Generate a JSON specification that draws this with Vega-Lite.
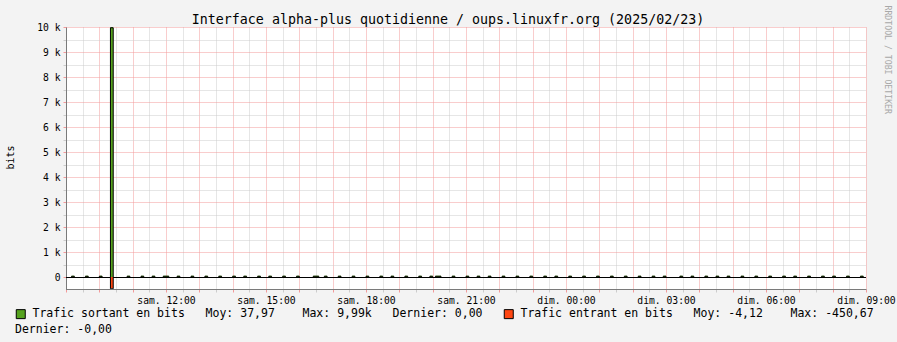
{
  "$schema": "https://vega.github.io/schema/vega-lite/v6.json",
  "width": 800,
  "height": 262,
  "autosize": {"type": "none"},
  "padding": {"left": 66, "top": 27, "right": 31, "bottom": 53},
  "background": "#f3f3f3",
  "title": {
    "text": "Interface alpha-plus quotidienne / oups.linuxfr.org (2025/02/23)",
    "font": "DejaVu Sans Mono",
    "fontSize": 13.3,
    "fontWeight": "normal",
    "color": "#000000",
    "anchor": "middle",
    "frame": "group",
    "dx": -18,
    "offset": -21
  },
  "config": {
    "view": {"stroke": null, "fill": "#ffffff"},
    "font": "DejaVu Sans Mono"
  },
  "datasets": {
    "traffic": [
      {"t": "2025-02-22T09:00:00Z", "s": "in", "v": 0},
      {"t": "2025-02-22T10:20:00Z", "s": "in", "v": -450.67},
      {"t": "2025-02-22T10:25:00Z", "s": "in", "v": 0},
      {"t": "2025-02-23T09:00:00Z", "s": "in", "v": 0},
      {"t": "2025-02-22T09:00:00Z", "s": "out", "v": 0},
      {"t": "2025-02-22T09:10:00Z", "s": "out", "v": 50},
      {"t": "2025-02-22T09:15:00Z", "s": "out", "v": 0},
      {"t": "2025-02-22T09:35:00Z", "s": "out", "v": 50},
      {"t": "2025-02-22T09:40:00Z", "s": "out", "v": 0},
      {"t": "2025-02-22T10:00:00Z", "s": "out", "v": 50},
      {"t": "2025-02-22T10:05:00Z", "s": "out", "v": 0},
      {"t": "2025-02-22T10:20:00Z", "s": "out", "v": 9990},
      {"t": "2025-02-22T10:25:00Z", "s": "out", "v": 0},
      {"t": "2025-02-22T10:50:00Z", "s": "out", "v": 50},
      {"t": "2025-02-22T10:55:00Z", "s": "out", "v": 0},
      {"t": "2025-02-22T11:15:00Z", "s": "out", "v": 50},
      {"t": "2025-02-22T11:20:00Z", "s": "out", "v": 0},
      {"t": "2025-02-22T11:35:00Z", "s": "out", "v": 50},
      {"t": "2025-02-22T11:40:00Z", "s": "out", "v": 0},
      {"t": "2025-02-22T11:55:00Z", "s": "out", "v": 50},
      {"t": "2025-02-22T12:05:00Z", "s": "out", "v": 0},
      {"t": "2025-02-22T12:20:00Z", "s": "out", "v": 50},
      {"t": "2025-02-22T12:25:00Z", "s": "out", "v": 0},
      {"t": "2025-02-22T12:45:00Z", "s": "out", "v": 50},
      {"t": "2025-02-22T12:50:00Z", "s": "out", "v": 0},
      {"t": "2025-02-22T13:10:00Z", "s": "out", "v": 50},
      {"t": "2025-02-22T13:15:00Z", "s": "out", "v": 0},
      {"t": "2025-02-22T13:35:00Z", "s": "out", "v": 50},
      {"t": "2025-02-22T13:40:00Z", "s": "out", "v": 0},
      {"t": "2025-02-22T14:00:00Z", "s": "out", "v": 50},
      {"t": "2025-02-22T14:05:00Z", "s": "out", "v": 0},
      {"t": "2025-02-22T14:20:00Z", "s": "out", "v": 50},
      {"t": "2025-02-22T14:25:00Z", "s": "out", "v": 0},
      {"t": "2025-02-22T14:45:00Z", "s": "out", "v": 50},
      {"t": "2025-02-22T14:50:00Z", "s": "out", "v": 0},
      {"t": "2025-02-22T15:05:00Z", "s": "out", "v": 50},
      {"t": "2025-02-22T15:10:00Z", "s": "out", "v": 0},
      {"t": "2025-02-22T15:30:00Z", "s": "out", "v": 50},
      {"t": "2025-02-22T15:35:00Z", "s": "out", "v": 0},
      {"t": "2025-02-22T15:55:00Z", "s": "out", "v": 50},
      {"t": "2025-02-22T16:00:00Z", "s": "out", "v": 0},
      {"t": "2025-02-22T16:25:00Z", "s": "out", "v": 50},
      {"t": "2025-02-22T16:35:00Z", "s": "out", "v": 0},
      {"t": "2025-02-22T16:45:00Z", "s": "out", "v": 50},
      {"t": "2025-02-22T16:50:00Z", "s": "out", "v": 0},
      {"t": "2025-02-22T17:10:00Z", "s": "out", "v": 50},
      {"t": "2025-02-22T17:15:00Z", "s": "out", "v": 0},
      {"t": "2025-02-22T17:35:00Z", "s": "out", "v": 50},
      {"t": "2025-02-22T17:40:00Z", "s": "out", "v": 0},
      {"t": "2025-02-22T18:00:00Z", "s": "out", "v": 50},
      {"t": "2025-02-22T18:05:00Z", "s": "out", "v": 0},
      {"t": "2025-02-22T18:25:00Z", "s": "out", "v": 50},
      {"t": "2025-02-22T18:30:00Z", "s": "out", "v": 0},
      {"t": "2025-02-22T18:45:00Z", "s": "out", "v": 50},
      {"t": "2025-02-22T18:50:00Z", "s": "out", "v": 0},
      {"t": "2025-02-22T19:10:00Z", "s": "out", "v": 50},
      {"t": "2025-02-22T19:15:00Z", "s": "out", "v": 0},
      {"t": "2025-02-22T19:35:00Z", "s": "out", "v": 50},
      {"t": "2025-02-22T19:40:00Z", "s": "out", "v": 0},
      {"t": "2025-02-22T19:55:00Z", "s": "out", "v": 50},
      {"t": "2025-02-22T20:00:00Z", "s": "out", "v": 0},
      {"t": "2025-02-22T20:05:00Z", "s": "out", "v": 50},
      {"t": "2025-02-22T20:15:00Z", "s": "out", "v": 0},
      {"t": "2025-02-22T20:35:00Z", "s": "out", "v": 50},
      {"t": "2025-02-22T20:40:00Z", "s": "out", "v": 0},
      {"t": "2025-02-22T21:00:00Z", "s": "out", "v": 50},
      {"t": "2025-02-22T21:05:00Z", "s": "out", "v": 0},
      {"t": "2025-02-22T21:20:00Z", "s": "out", "v": 50},
      {"t": "2025-02-22T21:25:00Z", "s": "out", "v": 0},
      {"t": "2025-02-22T21:40:00Z", "s": "out", "v": 50},
      {"t": "2025-02-22T21:45:00Z", "s": "out", "v": 0},
      {"t": "2025-02-22T22:05:00Z", "s": "out", "v": 50},
      {"t": "2025-02-22T22:10:00Z", "s": "out", "v": 0},
      {"t": "2025-02-22T22:30:00Z", "s": "out", "v": 50},
      {"t": "2025-02-22T22:35:00Z", "s": "out", "v": 0},
      {"t": "2025-02-22T22:55:00Z", "s": "out", "v": 50},
      {"t": "2025-02-22T23:00:00Z", "s": "out", "v": 0},
      {"t": "2025-02-22T23:20:00Z", "s": "out", "v": 50},
      {"t": "2025-02-22T23:25:00Z", "s": "out", "v": 0},
      {"t": "2025-02-22T23:40:00Z", "s": "out", "v": 50},
      {"t": "2025-02-22T23:45:00Z", "s": "out", "v": 0},
      {"t": "2025-02-23T00:05:00Z", "s": "out", "v": 50},
      {"t": "2025-02-23T00:10:00Z", "s": "out", "v": 0},
      {"t": "2025-02-23T00:30:00Z", "s": "out", "v": 50},
      {"t": "2025-02-23T00:35:00Z", "s": "out", "v": 0},
      {"t": "2025-02-23T00:55:00Z", "s": "out", "v": 50},
      {"t": "2025-02-23T01:00:00Z", "s": "out", "v": 0},
      {"t": "2025-02-23T01:20:00Z", "s": "out", "v": 50},
      {"t": "2025-02-23T01:25:00Z", "s": "out", "v": 0},
      {"t": "2025-02-23T01:45:00Z", "s": "out", "v": 50},
      {"t": "2025-02-23T01:50:00Z", "s": "out", "v": 0},
      {"t": "2025-02-23T02:10:00Z", "s": "out", "v": 50},
      {"t": "2025-02-23T02:15:00Z", "s": "out", "v": 0},
      {"t": "2025-02-23T02:35:00Z", "s": "out", "v": 50},
      {"t": "2025-02-23T02:40:00Z", "s": "out", "v": 0},
      {"t": "2025-02-23T02:55:00Z", "s": "out", "v": 50},
      {"t": "2025-02-23T03:00:00Z", "s": "out", "v": 0},
      {"t": "2025-02-23T03:25:00Z", "s": "out", "v": 50},
      {"t": "2025-02-23T03:30:00Z", "s": "out", "v": 0},
      {"t": "2025-02-23T03:45:00Z", "s": "out", "v": 50},
      {"t": "2025-02-23T03:50:00Z", "s": "out", "v": 0},
      {"t": "2025-02-23T04:10:00Z", "s": "out", "v": 50},
      {"t": "2025-02-23T04:15:00Z", "s": "out", "v": 0},
      {"t": "2025-02-23T04:30:00Z", "s": "out", "v": 50},
      {"t": "2025-02-23T04:35:00Z", "s": "out", "v": 0},
      {"t": "2025-02-23T04:50:00Z", "s": "out", "v": 50},
      {"t": "2025-02-23T04:55:00Z", "s": "out", "v": 0},
      {"t": "2025-02-23T05:15:00Z", "s": "out", "v": 50},
      {"t": "2025-02-23T05:20:00Z", "s": "out", "v": 0},
      {"t": "2025-02-23T05:40:00Z", "s": "out", "v": 50},
      {"t": "2025-02-23T05:45:00Z", "s": "out", "v": 0},
      {"t": "2025-02-23T06:05:00Z", "s": "out", "v": 50},
      {"t": "2025-02-23T06:10:00Z", "s": "out", "v": 0},
      {"t": "2025-02-23T06:30:00Z", "s": "out", "v": 50},
      {"t": "2025-02-23T06:35:00Z", "s": "out", "v": 0},
      {"t": "2025-02-23T06:50:00Z", "s": "out", "v": 50},
      {"t": "2025-02-23T06:55:00Z", "s": "out", "v": 0},
      {"t": "2025-02-23T07:15:00Z", "s": "out", "v": 50},
      {"t": "2025-02-23T07:20:00Z", "s": "out", "v": 0},
      {"t": "2025-02-23T07:40:00Z", "s": "out", "v": 50},
      {"t": "2025-02-23T07:45:00Z", "s": "out", "v": 0},
      {"t": "2025-02-23T08:00:00Z", "s": "out", "v": 50},
      {"t": "2025-02-23T08:05:00Z", "s": "out", "v": 0},
      {"t": "2025-02-23T08:25:00Z", "s": "out", "v": 50},
      {"t": "2025-02-23T08:30:00Z", "s": "out", "v": 0},
      {"t": "2025-02-23T08:50:00Z", "s": "out", "v": 50},
      {"t": "2025-02-23T08:55:00Z", "s": "out", "v": 0},
      {"t": "2025-02-23T09:00:00Z", "s": "out", "v": 0}
    ]
  },
  "resolve": {"scale": {"y": "independent"}},
  "layer": [
    {
      "encoding": {
        "x": {
          "field": "t",
          "type": "temporal",
          "scale": {
            "type": "utc",
            "domain": [
              {"year": 2025, "month": 2, "date": 22, "hours": 9, "utc": true},
              {"year": 2025, "month": 2, "date": 23, "hours": 9, "utc": true}
            ]
          },
          "axis": {
            "title": null,
            "values": [1740214800000, 1740216600000, 1740218400000, 1740220200000, 1740222000000, 1740223800000, 1740225600000, 1740227400000, 1740229200000, 1740231000000, 1740232800000, 1740234600000, 1740236400000, 1740238200000, 1740240000000, 1740241800000, 1740243600000, 1740245400000, 1740247200000, 1740249000000, 1740250800000, 1740252600000, 1740254400000, 1740256200000, 1740258000000, 1740259800000, 1740261600000, 1740263400000, 1740265200000, 1740267000000, 1740268800000, 1740270600000, 1740272400000, 1740274200000, 1740276000000, 1740277800000, 1740279600000, 1740281400000, 1740283200000, 1740285000000, 1740286800000, 1740288600000, 1740290400000, 1740292200000, 1740294000000, 1740295800000, 1740297600000, 1740299400000, 1740301200000],
            "labelExpr": "utcminutes(datum.value) === 0 && utchours(datum.value) % 3 === 0 && !(utcday(datum.value) === 6 && utchours(datum.value) === 9) ? (utcday(datum.value) === 6 ? 'sam. ' : 'dim. ') + utcFormat(datum.value, '%H:%M') : ''",
            "labelOverlap": false,
            "labelFlush": false,
            "labelBound": false,
            "labelFont": "DejaVu Sans Mono",
            "labelFontSize": 9.7,
            "labelColor": "#000000",
            "labelPadding": 3,
            "tickSize": 3,
            "tickColor": {"condition": {"test": "utcminutes(datum.value) === 0", "value": "#f29a9a"}, "value": "#cccccc"},
            "grid": true,
            "gridColor": {"condition": {"test": "utcminutes(datum.value) === 0", "value": "#f29a9a"}, "value": "#cccccc"},
            "gridDash": [1, 1],
            "gridOpacity": 1,
            "domainColor": "#7a7a7a",
            "domainWidth": 1
          }
        },
        "y": {
          "field": "v",
          "type": "quantitative",
          "stack": null,
          "scale": {"domain": [-480, 10000], "nice": false, "zero": false},
          "axis": {
            "title": "bits",
            "titleFont": "DejaVu Sans Mono",
            "titleFontSize": 10,
            "titleFontWeight": "normal",
            "titleColor": "#000000",
            "titleX": -56,
            "titleY": 130,
            "titleAngle": -90,
            "titleAlign": "center",
            "titleBaseline": "middle",
            "values": [0, 500, 1000, 1500, 2000, 2500, 3000, 3500, 4000, 4500, 5000, 5500, 6000, 6500, 7000, 7500, 8000, 8500, 9000, 9500, 10000],
            "labelExpr": "datum.value % 1000 === 0 ? (datum.value === 0 ? '0\u00a0\u00a0' : (datum.value / 1000) + ' k') : ''",
            "labelOverlap": false,
            "labelFont": "DejaVu Sans Mono",
            "labelFontSize": 9.7,
            "labelColor": "#000000",
            "labelPadding": 3,
            "tickSize": 3,
            "tickColor": {"condition": {"test": "datum.value % 1000 === 0", "value": "#f29a9a"}, "value": "#cccccc"},
            "grid": true,
            "gridColor": {"condition": {"test": "datum.value % 1000 === 0", "value": "#f29a9a"}, "value": "#cccccc"},
            "gridDash": [1, 1],
            "gridOpacity": 1,
            "domainColor": "#7a7a7a",
            "domainWidth": 1
          }
        }
      },
      "layer": [
        {
          "data": {"name": "traffic"},
          "mark": {"type": "area", "interpolate": "step-after", "opacity": 1},
          "encoding": {
            "y2": {"datum": 0},
            "color": {
              "field": "s",
              "type": "nominal",
              "scale": {"domain": ["out", "in"], "range": ["#55a21e", "#ff4611"]},
              "legend": {
                "orient": "none",
                "legendX": -51,
                "legendY": 281,
                "direction": "horizontal",
                "title": "Dernier: -0,00",
                "titleOrient": "bottom",
                "titleAnchor": "start",
                "titleFont": "DejaVu Sans Mono",
                "titleFontSize": 11.5,
                "titleFontWeight": "normal",
                "titleColor": "#000000",
                "titlePadding": 3,
                "labelExpr": "datum.value === 'out' ? 'Trafic sortant en bits\u00a0\u00a0\u00a0Moy: 37,97\u00a0\u00a0\u00a0\u00a0Max: 9,99k\u00a0\u00a0\u00a0Dernier: 0,00' : 'Trafic entrant en bits\u00a0\u00a0\u00a0Moy: -4,12\u00a0\u00a0\u00a0\u00a0Max: -450,67'",
                "labelFont": "DejaVu Sans Mono",
                "labelFontSize": 11.5,
                "labelColor": "#000000",
                "labelLimit": 1000,
                "labelOffset": 6,
                "symbolType": "square",
                "symbolSize": 81,
                "symbolStrokeColor": "#000000",
                "symbolStrokeWidth": 1,
                "symbolOpacity": 1,
                "columnPadding": 19,
                "padding": 0
              }
            }
          }
        },
        {
          "data": {"name": "traffic"},
          "mark": {"type": "line", "interpolate": "step-after", "color": "#000000", "strokeWidth": 1, "yOffset": 0.5},
          "encoding": {
            "detail": {"field": "s", "type": "nominal"}
          }
        },
        {
          "data": {"values": [{}]},
          "mark": {"type": "point", "shape": "triangle-up", "filled": true, "color": "#8b1a1a", "size": 36, "opacity": 1},
          "encoding": {
            "x": {"datum": {"year": 2025, "month": 2, "date": 22, "hours": 9, "utc": true}, "type": "temporal"},
            "y": {"datum": 10140, "type": "quantitative"}
          }
        },
        {
          "data": {"values": [{}]},
          "mark": {"type": "point", "shape": "triangle-right", "filled": true, "color": "#8b1a1a", "size": 36, "opacity": 1},
          "encoding": {
            "x": {"datum": {"year": 2025, "month": 2, "date": 23, "hours": 9, "minutes": 9, "utc": true}, "type": "temporal"},
            "y": {"datum": -480, "type": "quantitative"}
          }
        }
      ]
    },
    {
      "data": {"values": [{}]},
      "mark": {"type": "rule", "color": "#7a7a7a", "strokeWidth": 1, "yOffset": 0.5},
      "encoding": {
        "y": {
          "datum": -480,
          "type": "quantitative",
          "scale": {"domain": [-480, 10000], "nice": false, "zero": false},
          "axis": {
            "orient": "right",
            "title": "RRDTOOL / TOBI OETIKER",
            "titleX": 20,
            "titleY": -22,
            "titleAngle": 90,
            "titleAlign": "left",
            "titleBaseline": "middle",
            "titleFont": "DejaVu Sans Mono",
            "titleFontSize": 8.2,
            "titleFontWeight": "normal",
            "titleColor": "#a8a8a8",
            "labels": false,
            "ticks": false,
            "domain": false,
            "grid": false
          }
        }
      }
    }
  ]
}
